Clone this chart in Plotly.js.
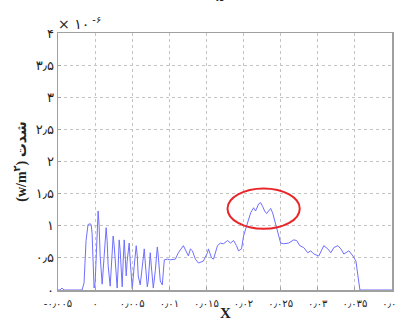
<!DOCTYPE html>
<html><head><meta charset="utf-8">
<script src="https://cdn.plot.ly/plotly-3.0.1.min.js"></script>
<style>html,body{margin:0;padding:0;background:#fff}</style>
</head><body>
<div id="chart" style="width:396px;height:320px"></div>
<script>
// position x (m)
const xPos = [-0.00500,-0.00473,-0.00446,-0.00419,-0.00176,-0.00149,-0.00122,-0.00095,-0.00068,-0.00054,-0.00041,-0.00027,-0.00014,0.00000,0.00014,0.00041,0.00054,0.00068,0.00095,0.00122,0.00149,0.00162,0.00176,0.00203,0.00216,0.00243,0.00257,0.00284,0.00297,0.00311,0.00324,0.00338,0.00351,0.00365,0.00378,0.00392,0.00405,0.00419,0.00432,0.00459,0.00473,0.00486,0.00500,0.00527,0.00554,0.00568,0.00581,0.00608,0.00635,0.00662,0.00676,0.00703,0.00716,0.00743,0.00757,0.00784,0.00811,0.00838,0.00851,0.00878,0.00905,0.00919,0.00932,0.00973,0.01014,0.01081,0.01122,0.01189,0.01230,0.01257,0.01284,0.01311,0.01351,0.01392,0.01459,0.01514,0.01527,0.01568,0.01595,0.01649,0.01689,0.01730,0.01784,0.01824,0.01865,0.01905,0.01932,0.01973,0.02000,0.02041,0.02068,0.02095,0.02135,0.02162,0.02203,0.02230,0.02257,0.02284,0.02311,0.02338,0.02365,0.02392,0.02419,0.02459,0.02500,0.02541,0.02608,0.02676,0.02716,0.02757,0.02811,0.02865,0.02905,0.02946,0.03014,0.03081,0.03135,0.03176,0.03216,0.03270,0.03311,0.03351,0.03419,0.03473,0.03514,0.03541,0.03568,0.03700,0.04000];
// intensity (x 1e-6 W/m^2)
const intensity = [0,0,0.03,0,0,0.11,0.77,1.02,1.03,1.02,0.89,0.375,0.03,0.11,0.61,1.23,1.0,0.53,0.09,0.61,0.97,0.77,0.375,0.06,0.30,0.84,0.69,0.22,0.03,0.375,0.78,0.61,0.22,0.05,0.45,0.78,0.53,0.22,0.45,0.73,0.45,0.14,0.02,0.375,0.69,0.53,0.22,0.08,0.42,0.64,0.42,0.05,0.14,0.58,0.375,0.03,0.30,0.67,0.53,0.14,0.08,0.30,0.47,0.48,0.47,0.48,0.58,0.69,0.58,0.53,0.64,0.61,0.48,0.42,0.45,0.58,0.64,0.50,0.48,0.69,0.73,0.72,0.77,0.73,0.77,0.69,0.61,0.64,0.84,1.00,1.08,1.20,1.28,1.23,1.34,1.36,1.30,1.23,1.19,1.23,1.27,1.20,1.08,0.92,0.73,0.72,0.73,0.78,0.77,0.69,0.66,0.58,0.61,0.56,0.53,0.69,0.64,0.58,0.66,0.69,0.64,0.56,0.61,0.53,0.45,0.22,0,0,0];

const xTickVals = [-0.005,0,0.005,0.01,0.015,0.02,0.025,0.03,0.035,0.04];
const xTickText = ['-۰٫۰۰۵','۰','۰٫۰۰۵','۰٫۰۱','۰٫۰۱۵','۰٫۰۲','۰٫۰۲۵','۰٫۰۳','۰٫۰۳۵','۰٫۰۴'];
const yTickVals = [0,0.5,1,1.5,2,2.5,3,3.5,4];
const yTickText = ['۰','۰٫۵','۱','۱٫۵','۲','۲٫۵','۳','۳٫۵','۴'];

const font = 'DejaVu Sans, Noto Sans, sans-serif';
const trace = {
  x: xPos, y: intensity, type: 'scatter', mode: 'lines',
  line: {color: '#6f6fff', width: 1}, hoverinfo: 'skip'
};
const axisCommon = {
  showline: true, mirror: true, linecolor: '#a0a0a0', linewidth: 1.5,
  showgrid: true, gridcolor: '#c4c4c4', griddash: 'dot', gridwidth: 1,
  zeroline: false, ticks: 'inside', ticklen: 3, tickcolor: '#a0a0a0',
  ticklabeloverflow: 'allow',
  tickfont: {family: font, size: 11, color: '#222'}
};
const layout = {
  width: 396, height: 320,
  margin: {l: 58, r: 4, t: 33, b: 30},
  paper_bgcolor: '#fff', plot_bgcolor: '#fff',
  showlegend: false,
  xaxis: Object.assign({}, axisCommon, {
    range: [-0.005, 0.04], tickmode: 'array', tickvals: xTickVals, ticktext: xTickText,
    tickfont: {family: font, size: 10, color: '#222'}, ticklabelstandoff: 3
  }),
  yaxis: Object.assign({}, axisCommon, {
    range: [0, 4], tickmode: 'array', tickvals: yTickVals, ticktext: yTickText,
    tickfont: {family: font, size: 13, color: '#222'},
    title: {text: '<b>(w/m<sup>۲</sup>) شدت</b>', font: {family: 'Liberation Serif, DejaVu Sans, serif', size: 14, color: '#222'}, standoff: 6}
  }),
  shapes: [{
    type: 'circle', xref: 'x', yref: 'y',
    x0: 0.01784, x1: 0.02757, y0: 0.953, y1: 1.578,
    line: {color: '#e8262a', width: 2}
  }],
  annotations: [
    {xref: 'paper', yref: 'paper', x: 0.5, y: -0.09, yanchor: 'middle', xanchor: 'center',
     text: '<b>X</b>', showarrow: false, font: {family: 'Liberation Serif, serif', size: 15, color: '#222'}},
    {xref: 'paper', yref: 'paper', x: 0.485, y: 1.145, yanchor: 'middle', xanchor: 'center',
     text: '<b>x</b>', showarrow: false, font: {family: 'Liberation Serif, serif', size: 15, color: '#222'}},
    {xref: 'paper', yref: 'paper', x: -0.005, y: 1.04, yanchor: 'middle', xanchor: 'left',
     text: '× ۱۰<sup> -۶</sup>', showarrow: false, font: {family: font, size: 14, color: '#222'}}
  ]
};
Plotly.newPlot('chart', [trace], layout, {staticPlot: true, displayModeBar: false});
</script>
</body></html>
